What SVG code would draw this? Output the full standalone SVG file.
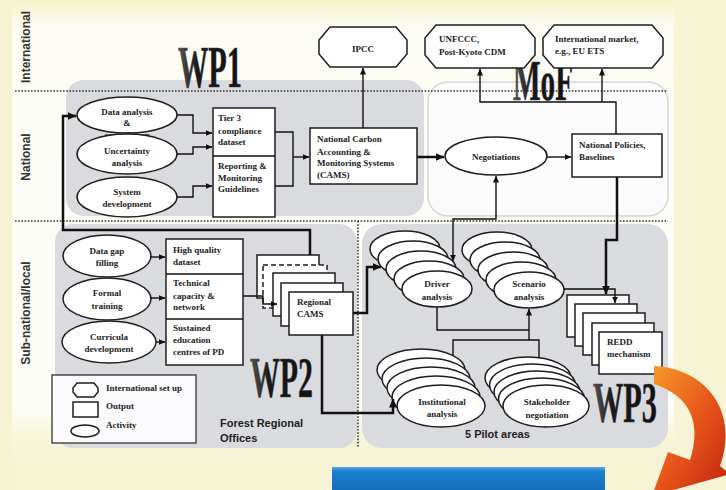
<svg xmlns="http://www.w3.org/2000/svg" width="726" height="490" viewBox="0 0 726 490">
<defs>
<marker id="ah" markerWidth="7" markerHeight="6" refX="6.5" refY="3" orient="auto-start-reverse" markerUnits="userSpaceOnUse"><path d="M0,0 L7,3 L0,6 Z" fill="#111"/></marker>
<marker id="ahb" markerWidth="9" markerHeight="8" refX="8.5" refY="4" orient="auto-start-reverse" markerUnits="userSpaceOnUse"><path d="M0,0 L9,4 L0,8 Z" fill="#111"/></marker>
<linearGradient id="bg" x1="0" y1="0" x2="0" y2="1"><stop offset="0" stop-color="#f4f2c8"/><stop offset="0.06" stop-color="#fdfdf6"/><stop offset="0.9" stop-color="#fdfdf8"/><stop offset="0.94" stop-color="#f8f6dc"/><stop offset="1" stop-color="#f6f4d4"/></linearGradient>
<linearGradient id="og" x1="0" y1="0" x2="1" y2="1"><stop offset="0" stop-color="#f59a2a"/><stop offset="0.5" stop-color="#e8561a"/><stop offset="1" stop-color="#c0200e"/></linearGradient>
<linearGradient id="bl" x1="0" y1="0" x2="0" y2="1"><stop offset="0" stop-color="#5aa8e6"/><stop offset="0.15" stop-color="#1a7fd0"/><stop offset="1" stop-color="#1268b4"/></linearGradient>
<linearGradient id="wp" x1="0" y1="0" x2="1" y2="0"><stop offset="0" stop-color="#555"/><stop offset="0.3" stop-color="#1a1a1a"/><stop offset="1" stop-color="#111"/></linearGradient>
</defs>
<style>
.t{font-family:"Liberation Serif","DejaVu Serif",serif;font-weight:bold;font-size:9px;fill:#222}
.c{text-anchor:middle}
.lab{font-family:"Liberation Sans",Arial,sans-serif;font-weight:bold;font-size:12px;fill:#333;text-anchor:middle}
.sans{font-family:"Liberation Sans",Arial,sans-serif;font-weight:bold;font-size:11px;fill:#222}
.wp{font-family:"Liberation Serif","DejaVu Serif",serif;font-weight:bold;fill:url(#wp);stroke:#444;stroke-width:0.6}
.n{fill:#fff;stroke:#1e1e1e;stroke-width:1.5}
.ln{fill:none;stroke:#111;stroke-width:1.4}
.lb{fill:none;stroke:#111;stroke-width:2.5}
.dot{fill:none;stroke:#333;stroke-width:1.6;stroke-dasharray:1.6 1.6}
.zone{fill:#dadbde}
</style>

<!-- background -->
<rect width="726" height="490" fill="#f6f4d4"/>
<rect x="12" y="0" width="662" height="458" fill="url(#bg)"/>
<rect x="0" y="0" width="12" height="490" fill="#f5f3d2"/>

<!-- zones -->
<rect class="zone" x="66" y="80" width="358" height="136" rx="18"/>
<rect x="428" y="82" width="240" height="134" rx="20" fill="#fbfbfb" stroke="#d6d6d6" stroke-width="1.5"/>
<rect class="zone" x="55" y="224" width="302" height="224" rx="18"/>
<rect class="zone" x="362" y="224" width="306" height="224" rx="20"/>

<!-- dotted separators -->
<path class="dot" d="M15,91 H668 M15,221 H668 M358,221 V448"/>

<!-- lane labels -->
<text class="lab" transform="translate(30,47) rotate(-90)">International</text>
<text class="lab" transform="translate(30,157) rotate(-90)">National</text>
<text class="lab" transform="translate(30,313) rotate(-90)">Sub-national/local</text>

<!-- WP titles -->
<text class="wp" x="178" y="87" font-size="60" textLength="64" lengthAdjust="spacingAndGlyphs">WP1</text>
<text class="wp" x="513" y="100" font-size="56" textLength="60" lengthAdjust="spacingAndGlyphs">MoF</text>
<text class="wp" x="250" y="397" font-size="58" textLength="63" lengthAdjust="spacingAndGlyphs">WP2</text>
<text class="wp" x="593" y="422" font-size="58" textLength="64" lengthAdjust="spacingAndGlyphs">WP3</text>

<!-- International set-up nodes -->
<g id="ipcc"><path class="n" d="M330,27 H396 L407,40 V54 L396,67 H330 L319,54 V40 Z"/><text class="t c" x="363" y="52" font-size="14">IPCC</text></g>
<g id="unfccc"><path class="n" d="M436,25 H524 L535,38 V55 L524,68 H436 L425,55 V38 Z"/><text class="t" x="439" y="42">UNFCCC,</text><text class="t" x="439" y="55">Post-Kyoto CDM</text></g>
<g id="market"><path class="n" d="M554,25 H652 L663,38 V55 L652,68 H554 L543,55 V38 Z"/><text class="t" x="555" y="42">International market,</text><text class="t" x="555" y="54">e.g., EU ETS</text></g>

<!-- WP1 nodes -->
<g id="data-analysis"><ellipse class="n" cx="127" cy="115" rx="50" ry="18"/><text class="t c" x="127" y="115">Data analysis</text><text class="t c" x="127" y="126">&amp;</text><text class="t c" x="127" y="138">compilation</text></g>
<g id="uncertainty"><ellipse class="n" cx="127" cy="154" rx="50" ry="20"/><text class="t c" x="127" y="154">Uncertainty</text><text class="t c" x="127" y="166">analysis</text></g>
<g id="system-dev"><ellipse class="n" cx="127" cy="197" rx="50" ry="20"/><text class="t c" x="127" y="195">System</text><text class="t c" x="127" y="207">development</text></g>
<g id="tier3"><rect class="n" x="213" y="108" width="62" height="109"/><path class="ln" d="M213,156 H275"/><text class="t" x="218" y="121">Tier 3</text><text class="t" x="218" y="134">compliance</text><text class="t" x="218" y="145">dataset</text><text class="t" x="218" y="169">Reporting &amp;</text><text class="t" x="218" y="181">Monitoring</text><text class="t" x="218" y="192">Guidelines</text></g>
<g id="cams"><rect class="n" x="310" y="128" width="107" height="56"/><text class="t" x="317" y="142">National Carbon</text><text class="t" x="317" y="155">Accounting &amp;</text><text class="t" x="317" y="166">Monitoring Systems</text><text class="t" x="317" y="178">(CAMS)</text></g>

<!-- MoF nodes -->
<g id="negotiations"><ellipse class="n" cx="496" cy="156" rx="51" ry="19"/><text class="t c" x="496" y="160">Negotiations</text></g>
<g id="policies"><rect class="n" x="572" y="134" width="90" height="43"/><text class="t" x="579" y="148">National Policies,</text><text class="t" x="579" y="160">Baselines</text></g>

<!-- WP2 nodes -->
<g id="data-gap"><ellipse class="n" cx="107" cy="256" rx="44" ry="21"/><text class="t c" x="107" y="254">Data gap</text><text class="t c" x="107" y="266">filling</text></g>
<g id="formal-training"><ellipse class="n" cx="107" cy="299" rx="44" ry="21"/><text class="t c" x="107" y="296">Formal</text><text class="t c" x="107" y="309">training</text></g>
<g id="curricula"><ellipse class="n" cx="109" cy="342" rx="47" ry="21"/><text class="t c" x="109" y="340">Curricula</text><text class="t c" x="109" y="352">development</text></g>
<g id="capacity-outputs"><rect class="n" x="166" y="239" width="77" height="126"/><path class="ln" d="M166,274 H243 M166,319 H243"/><text class="t" x="173" y="253">High quality</text><text class="t" x="173" y="265">dataset</text><text class="t" x="173" y="286">Technical</text><text class="t" x="173" y="299">capacity &amp;</text><text class="t" x="173" y="310">network</text><text class="t" x="173" y="331">Sustained</text><text class="t" x="173" y="343">education</text><text class="t" x="173" y="355">centres of PD</text></g>
<g id="regional-cams"><rect class="n" x="257" y="255" width="62" height="43"/><rect class="n" x="263" y="265" width="64" height="43" stroke-dasharray="5 3"/><rect class="n" x="273" y="273" width="62" height="43"/><rect class="n" x="281" y="283" width="62" height="43"/><rect class="n" x="289" y="292" width="64" height="43"/><text class="t" x="297" y="305">Regional</text><text class="t" x="297" y="317">CAMS</text></g>

<!-- legend -->
<g id="legend"><rect x="52" y="375" width="144" height="68" fill="#fbfafc" stroke="#333" stroke-width="1.3"/><path class="n" d="M77,383 H94 L98,388 V392 L94,397 H77 L73,392 V388 Z" stroke-width="1.2"/><rect class="n" x="73" y="402" width="25" height="15" stroke-width="1.2"/><ellipse class="n" cx="85" cy="431" rx="14" ry="6" stroke-width="1.2"/><text class="t" x="106" y="391">International set up</text><text class="t" x="106" y="409">Output</text><text class="t" x="106" y="428">Activity</text></g>

<!-- WP3 nodes -->
<g id="driver"><ellipse class="n" cx="405" cy="249" rx="35" ry="18"/><ellipse class="n" cx="413" cy="259" rx="35" ry="18"/><ellipse class="n" cx="421" cy="269" rx="35" ry="18"/><ellipse class="n" cx="429" cy="279" rx="35" ry="18"/><ellipse class="n" cx="437" cy="289" rx="35" ry="18"/><text class="t c" x="437" y="287">Driver</text><text class="t c" x="437" y="300">analysis</text></g>
<g id="scenario"><ellipse class="n" cx="497" cy="250" rx="35" ry="18"/><ellipse class="n" cx="505" cy="260" rx="35" ry="18"/><ellipse class="n" cx="513" cy="270" rx="35" ry="18"/><ellipse class="n" cx="521" cy="280" rx="35" ry="18"/><ellipse class="n" cx="529" cy="290" rx="35" ry="18"/><text class="t c" x="529" y="287">Scenario</text><text class="t c" x="529" y="300">analysis</text></g>
<g id="institutional"><ellipse class="n" cx="421" cy="370" rx="44" ry="21"/><ellipse class="n" cx="426" cy="379" rx="44" ry="21"/><ellipse class="n" cx="431" cy="388" rx="44" ry="21"/><ellipse class="n" cx="436" cy="397" rx="44" ry="21"/><ellipse class="n" cx="441" cy="406" rx="44" ry="21"/><text class="t c" x="442" y="405">Institutional</text><text class="t c" x="442" y="417">analysis</text></g>
<g id="stakeholder"><ellipse class="n" cx="528" cy="378" rx="43" ry="21"/><ellipse class="n" cx="532.5" cy="385" rx="43" ry="21"/><ellipse class="n" cx="537" cy="392" rx="43" ry="21"/><ellipse class="n" cx="541.5" cy="399" rx="43" ry="21"/><ellipse class="n" cx="546" cy="406" rx="43" ry="21"/><text class="t c" x="547" y="405">Stakeholder</text><text class="t c" x="547" y="418">negotiation</text></g>
<g id="redd"><rect class="n" x="567" y="295" width="62" height="42"/><rect class="n" x="575" y="304" width="62" height="42"/><rect class="n" x="583" y="313" width="62" height="42"/><rect class="n" x="592" y="323" width="62" height="42"/><rect class="n" x="599" y="332" width="63" height="42"/><text class="t" x="607" y="345">REDD</text><text class="t" x="607" y="357">mechanism</text></g>

<!-- area captions -->
<text class="sans" x="220" y="427">Forest Regional</text>
<text class="sans" x="220" y="442">Offices</text>
<text class="sans" x="465" y="438">5 Pilot areas</text>

<!-- connectors -->
<g id="connectors">
<path class="ln" d="M177,115 H193 V133 H212" marker-end="url(#ah)"/>
<path class="ln" d="M177,154 H193 V147 H212" marker-end="url(#ah)"/>
<path class="ln" d="M177,197 H193 V186 H212" marker-end="url(#ah)"/>
<path class="ln" d="M275,132 H293 V186 H275"/>
<path class="ln" d="M293,157 H309" marker-end="url(#ah)"/>
<path class="ln" d="M363,128 V68" marker-end="url(#ah)"/>
<path class="lb" d="M417,157 H444" marker-end="url(#ahb)"/>
<path class="ln" d="M547,157 H571" marker-end="url(#ah)"/>
<path class="ln" d="M616,134 V102 H480 V69" marker-end="url(#ah)"/>
<path class="ln" d="M602,102 V69" marker-end="url(#ah)"/>
<path class="ln" d="M453,261 V219 H496 V176" marker-start="url(#ah)" marker-end="url(#ah)"/>
<path class="lb" d="M617,177 V240 H606 V294" marker-end="url(#ahb)"/>
<path class="ln" d="M564,289 H615 V303" marker-end="url(#ah)"/>
<path class="ln" d="M150,257 H165" marker-end="url(#ah)"/>
<path class="ln" d="M150,298 H165" marker-end="url(#ah)"/>
<path class="ln" d="M156,342 H165" marker-end="url(#ah)"/>
<path class="ln" d="M243,296 H263 V304 H277" marker-end="url(#ah)"/>
<path class="lb" d="M310,255 V230 H63 V116 H76" marker-end="url(#ahb)"/>
<path class="lb" d="M353,313 H367 V267 H381" marker-end="url(#ahb)"/>
<path class="lb" d="M322,335 V413 H393 V399" marker-end="url(#ahb)"/>
<path class="ln" d="M437,307 V330 H529"/>
<path class="ln" d="M529,340 V309" marker-end="url(#ah)"/>
<path class="ln" d="M453,356 V340 H539 V358"/>
</g>

<!-- bottom decorations -->
<rect x="332" y="467" width="273" height="30" fill="url(#bl)"/>
<path d="M654,366 C704,368 740,410 720,466 L730,474 L652,496 L668,452 L690,460 C702,422 690,396 654,384 Z" fill="url(#og)"/>
</svg>
